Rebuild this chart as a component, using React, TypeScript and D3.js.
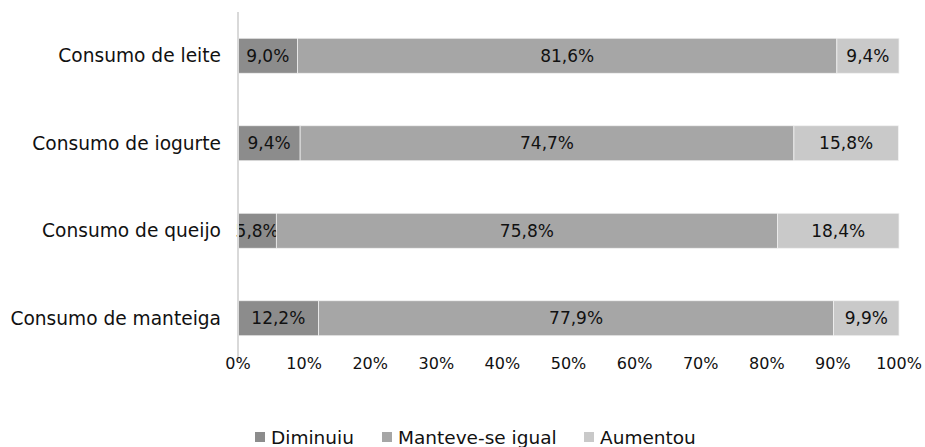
import * as d3 from "d3";

const categories = ["Consumo de leite", "Consumo de iogurte", "Consumo de queijo", "Consumo de manteiga"];
const seriesNames = ["Diminuiu", "Manteve-se igual", "Aumentou"];
const diminuiu = [9.0, 9.4, 5.8, 12.2];
const manteve = [81.6, 74.7, 75.8, 77.9];
const aumentou = [9.4, 15.8, 18.4, 9.9];
const ticks = [0, 10, 20, 30, 40, 50, 60, 70, 80, 90, 100];
const colors = ["#8c8c8c", "#a6a6a6", "#c9c9c9"];

const W = 925, H = 447;
const font = "'DejaVu Sans', Verdana, sans-serif";
const fmt = (v: number) => v.toFixed(1).replace(".", ",") + "%";

export default function App() {
  const x = d3.scaleLinear().domain([0, 100]).range([238, 899]);
  const y = d3.scaleBand().domain(categories).range([12, 362]).paddingInner(0.6).paddingOuter(0.3);

  const rows = categories.map((c, i) => {
    const vals = [diminuiu[i], manteve[i], aumentou[i]];
    let acc = 0;
    return vals.map((v, k) => {
      const seg = { cat: c, k, v, x0: acc, x1: acc + v };
      acc += v;
      return seg;
    });
  });

  const legendX = [255, 382, 584];

  return (
    <svg width={W} height={H} style={{ position: "absolute", left: 0, top: 0, background: "#fff" }}>
      {rows.flat().map((s, i) => (
        <g key={i}>
          <rect x={x(s.x0)} y={y(s.cat)!} width={x(s.x1) - x(s.x0)} height={y.bandwidth()}
            fill={colors[s.k]} stroke="#f2f2f2" strokeWidth={0.75} />
          <text x={(x(s.x0) + x(Math.min(s.x1, 100))) / 2} y={y(s.cat)! + y.bandwidth() / 2}
            dy="0.36em" textAnchor="middle" fontFamily={font} fontSize={17} fill="#111">
            {fmt(s.v)}
          </text>
        </g>
      ))}
      <line x1={x(0)} x2={x(0)} y1={12} y2={362} stroke="#d9d9d9" strokeWidth={2} />
      {categories.map((c) => (
        <text key={c} x={221} y={y(c)! + y.bandwidth() / 2} dy="0.36em" textAnchor="end"
          fontFamily={font} fontSize={18.6} fill="#111">{c}</text>
      ))}
      {ticks.map((t) => (
        <text key={t} x={x(t)} y={363} dy="0.36em" textAnchor="middle"
          fontFamily={font} fontSize={16} fill="#111">{t + "%"}</text>
      ))}
      {seriesNames.map((n, k) => (
        <g key={n}>
          <rect x={legendX[k]} y={432} width={10} height={10} fill={colors[k]} />
          <text x={legendX[k] + 16} y={437} dy="0.36em" fontFamily={font} fontSize={18.5} fill="#111">{n}</text>
        </g>
      ))}
    </svg>
  );
}
